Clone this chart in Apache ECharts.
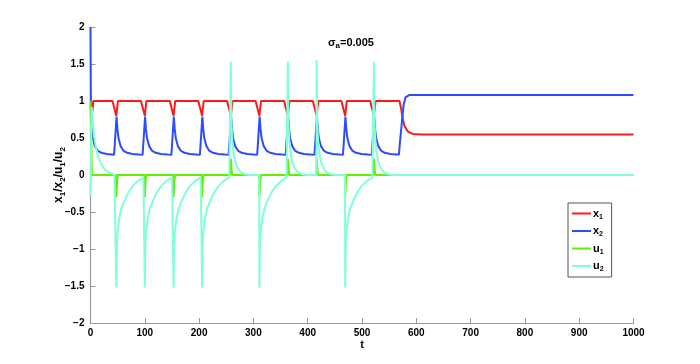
<!DOCTYPE html>
<html>
<head>
<meta charset="utf-8">
<script src="https://cdn.jsdelivr.net/npm/echarts@6/dist/echarts.min.js"></script>
<style>
  html, body { margin: 0; padding: 0; background: #fff; }
  #main { width: 700px; height: 364px; }
</style>
</head>
<body>
<div id="main"></div>
<script>
// values, [t, value]
const x1Data = [
  [0, 0.9], [3.5, 0.86], [5, 1],
  [40.5, 1], [47.5, 0.8], [50.5, 1],
  [93, 1], [100, 0.8], [103, 1],
  [146, 1], [153, 0.8], [156, 1],
  [198.5, 1], [205.5, 0.8], [208.5, 1],
  [251.5, 1], [258.5, 0.8], [261.5, 1],
  [304, 1], [311, 0.8], [314, 1],
  [356.5, 1], [363.5, 0.8], [366.5, 1],
  [409.5, 1], [416.5, 0.8], [419.5, 1],
  [462, 1], [469, 0.8], [472, 1],
  [515, 1], [522, 0.8], [525, 1],
  [569, 1], [572, 0.9], [575, 0.76], [578, 0.67], [584, 0.59], [593, 0.555], [610, 0.548], [1000, 0.548]
];

const x2Data = [
  [0, 2], [0.8, 0.8], [2, 0.64], [4, 0.51], [8, 0.39], [13, 0.33], [20, 0.3], [30, 0.285], [43.5, 0.275],
  [48, 0.79], [49.5, 0.63], [51.5, 0.5], [55.5, 0.39], [60.5, 0.33], [67.5, 0.3], [77.5, 0.285], [89.5, 0.278], [96, 0.275],
  [100.5, 0.79], [102, 0.63], [104, 0.5], [108, 0.39], [113, 0.33], [120, 0.3], [130, 0.285], [142, 0.278], [149, 0.275],
  [153.5, 0.79], [155, 0.63], [157, 0.5], [161, 0.39], [166, 0.33], [173, 0.3], [183, 0.285], [195, 0.278], [201.5, 0.275],
  [206, 0.79], [207.5, 0.63], [209.5, 0.5], [213.5, 0.39], [218.5, 0.33], [225.5, 0.3], [235.5, 0.285], [247.5, 0.278], [254.5, 0.275],
  [259, 0.79], [260.5, 0.63], [262.5, 0.5], [266.5, 0.39], [271.5, 0.33], [278.5, 0.3], [288.5, 0.285], [300.5, 0.278], [307, 0.275],
  [311.5, 0.79], [313, 0.63], [315, 0.5], [319, 0.39], [324, 0.33], [331, 0.3], [341, 0.285], [353, 0.278], [359.5, 0.275],
  [364, 0.79], [365.5, 0.63], [367.5, 0.5], [371.5, 0.39], [376.5, 0.33], [383.5, 0.3], [393.5, 0.285], [405.5, 0.278], [412.5, 0.275],
  [417, 0.79], [418.5, 0.63], [420.5, 0.5], [424.5, 0.39], [429.5, 0.33], [436.5, 0.3], [446.5, 0.285], [458.5, 0.278], [465, 0.275],
  [469.5, 0.79], [471, 0.63], [473, 0.5], [477, 0.39], [482, 0.33], [489, 0.3], [499, 0.285], [511, 0.278], [518, 0.275],
  [522.5, 0.79], [524, 0.63], [526, 0.5], [530, 0.39], [535, 0.33], [542, 0.3], [552, 0.285], [564, 0.278], [568, 0.276],
  [570, 0.45], [573.5, 0.72], [576.5, 0.94], [580, 1.05], [587, 1.08], [1000, 1.08]
];

const u1Data = [
  [0, 1], [1, 1], [2.5, 0],
  [47, 0], [47.5, -0.3], [49, -0.08], [50.5, 0],
  [99.5, 0], [100, -0.3], [101.5, -0.08], [103, 0],
  [152.5, 0], [153, -0.3], [154.5, -0.08], [156, 0],
  [205, 0], [205.5, -0.3], [207, -0.08], [208.5, 0],
  [258, 0], [258.5, 0.22], [260, 0.06], [261.5, 0],
  [310.5, 0], [311, -0.3], [312.5, -0.08], [314, 0],
  [363, 0], [363.5, 0.22], [365, 0.06], [366.5, 0],
  [416, 0], [416.5, 0.22], [418, 0.06], [419.5, 0],
  [468.5, 0], [469, -0.3], [470.5, -0.08], [472, 0],
  [521.5, 0], [522, 0.22], [523.5, 0.06], [525, 0],
  [1000, 0]
];

const u2Data = [
  [0, -0.28], [0.6, -0.28], [2, 0.92], [4, 0.74], [7, 0.5], [10.5, 0.35], [14, 0.26], [20, 0.14], [27, 0.07], [35, 0.03], [44, 0.005],
  [47.2, 0], [47.5, -1.52], [48.5, -0.95], [50, -0.76], [52.5, -0.6], [56.5, -0.46], [62.5, -0.35], [69.5, -0.24], [77.5, -0.15], [87.5, -0.08], [97.5, -0.035],
  [99.7, -0.03], [100, -1.52], [101, -0.95], [102.5, -0.76], [105, -0.6], [109, -0.46], [115, -0.35], [122, -0.24], [130, -0.15], [140, -0.08], [150, -0.035],
  [152.7, -0.03], [153, -1.52], [154, -0.95], [155.5, -0.76], [158, -0.6], [162, -0.46], [168, -0.35], [175, -0.24], [183, -0.15], [193, -0.08], [203, -0.035],
  [205.2, -0.03], [205.5, -1.52], [206.5, -0.95], [208, -0.76], [210.5, -0.6], [214.5, -0.46], [220.5, -0.35], [227.5, -0.24], [235.5, -0.15], [245.5, -0.08], [255.5, -0.035],
  [258.2, -0.03], [258.5, 1.53], [259.5, 0.7], [261, 0.48], [263.5, 0.3], [266.5, 0.18], [270.5, 0.1], [276.5, 0.04], [284.5, 0.01], [293.5, 0],
  [310.7, 0], [311, -1.52], [312, -0.95], [313.5, -0.76], [316, -0.6], [320, -0.46], [326, -0.35], [333, -0.24], [341, -0.15], [351, -0.08], [361, -0.035],
  [363.2, -0.03], [363.5, 1.53], [364.5, 0.7], [366, 0.48], [368.5, 0.3], [371.5, 0.18], [375.5, 0.1], [381.5, 0.04], [389.5, 0.01], [398.5, 0],
  [416.2, 0], [416.5, 1.55], [417.5, 0.7], [419, 0.48], [421.5, 0.3], [424.5, 0.18], [428.5, 0.1], [434.5, 0.04], [442.5, 0.01], [451.5, 0],
  [468.7, 0], [469, -1.52], [470, -0.95], [471.5, -0.76], [474, -0.6], [478, -0.46], [484, -0.35], [491, -0.24], [499, -0.15], [509, -0.08], [519, -0.035],
  [521.7, -0.03], [522, 1.53], [523, 0.7], [524.5, 0.48], [527, 0.3], [530, 0.18], [534, 0.1], [540, 0.04], [548, 0.01], [557, 0],
  [1000, 0]
];

const seriesNames = ['x1', 'x2', 'u1', 'u2'];
const seriesColors = ['#ff1a1a', '#2f4bff', '#66ee00', '#80ffd8'];
const xTicks = { min: 0, max: 1000, step: 100 };
const yTicks = { min: -2, max: 2, step: 0.5 };

const FONT = '"Liberation Sans", Arial, sans-serif';
const chart = echarts.init(document.getElementById('main'), null, { renderer: 'canvas' });

const subRich = {
  m: { fontSize: 11, fontWeight: 'bold', color: '#000', fontFamily: FONT, lineHeight: 14, verticalAlign: 'middle' },
  s: { fontSize: 8, fontWeight: 'bold', color: '#000', fontFamily: FONT, lineHeight: 8, verticalAlign: 'bottom' }
};
const nameRich = {
  m: { fontSize: 12, fontWeight: 'bold', color: '#000', fontFamily: FONT, lineHeight: 15, verticalAlign: 'middle' },
  s: { fontSize: 8, fontWeight: 'bold', color: '#000', fontFamily: FONT, lineHeight: 8, verticalAlign: 'bottom' }
};

function minus(v) {
  return String(v).replace('-', '\u2212');
}

const allData = [x1Data, x2Data, u1Data, u2Data];

const option = {
  animation: false,
  backgroundColor: '#fff',
  textStyle: { fontFamily: FONT },
  title: {
    text: '{m|\u03c3}{s|a}{m|=0.005}',
    left: 323,
    top: 31,
    textStyle: { rich: subRich }
  },
  grid: { left: 90.5, right: 66.5, top: 27, bottom: 41 },
  legend: {
    orient: 'vertical',
    left: 568,
    top: 203,
    padding: [5, 8, 4, 4],
    itemGap: 5,
    itemWidth: 19,
    itemHeight: 2,
    icon: 'rect',
    borderColor: '#555',
    borderWidth: 1,
    backgroundColor: '#fff',
    data: seriesNames,
    formatter: function (name) {
      return '{m|' + name[0] + '}{s|' + name[1] + '}';
    },
    textStyle: { padding: [0, 0, 0, -3], rich: {
      m: { fontSize: 11, fontWeight: 'bold', color: '#000', fontFamily: FONT, lineHeight: 14, verticalAlign: 'middle' },
      s: { fontSize: 7, fontWeight: 'bold', color: '#000', fontFamily: FONT, lineHeight: 7, verticalAlign: 'bottom' }
    } }
  },
  xAxis: {
    type: 'value',
    min: xTicks.min,
    max: xTicks.max,
    interval: xTicks.step,
    name: 't',
    nameLocation: 'middle',
    nameGap: 16,
    nameMoveOverlap: false,
    nameTextStyle: { fontSize: 11, fontWeight: 'bold', color: '#000' },
    axisLine: { show: true, onZero: false, lineStyle: { color: '#999', width: 1.2 } },
    axisTick: { show: true, inside: true, length: 5, lineStyle: { color: '#999' } },
    axisLabel: { fontSize: 10, fontWeight: 'bold', color: '#000', margin: 5, formatter: function (v) { return String(v); } },
    splitLine: { show: false }
  },
  yAxis: {
    type: 'value',
    min: yTicks.min,
    max: yTicks.max,
    interval: yTicks.step,
    name: '{m|x}{s|1}{m|/x}{s|2}{m|/u}{s|1}{m|/u}{s|2}',
    nameLocation: 'middle',
    nameGap: 24,
    nameMoveOverlap: false,
    nameTextStyle: { rich: nameRich },
    axisLine: { show: true, onZero: false, lineStyle: { color: '#999', width: 1.2 } },
    axisTick: { show: true, inside: true, length: 5, lineStyle: { color: '#999' } },
    axisLabel: { fontSize: 10, fontWeight: 'bold', color: '#000', margin: 6, formatter: minus },
    splitLine: { show: false }
  },
  series: seriesNames.map(function (n, i) {
    return {
      name: n,
      type: 'line',
      data: allData[i],
      showSymbol: false,
      symbol: 'none',
      clip: true,
      color: seriesColors[i],
      lineStyle: { width: 2, color: seriesColors[i] }
    };
  })
};

chart.setOption(option);
</script>
</body>
</html>
